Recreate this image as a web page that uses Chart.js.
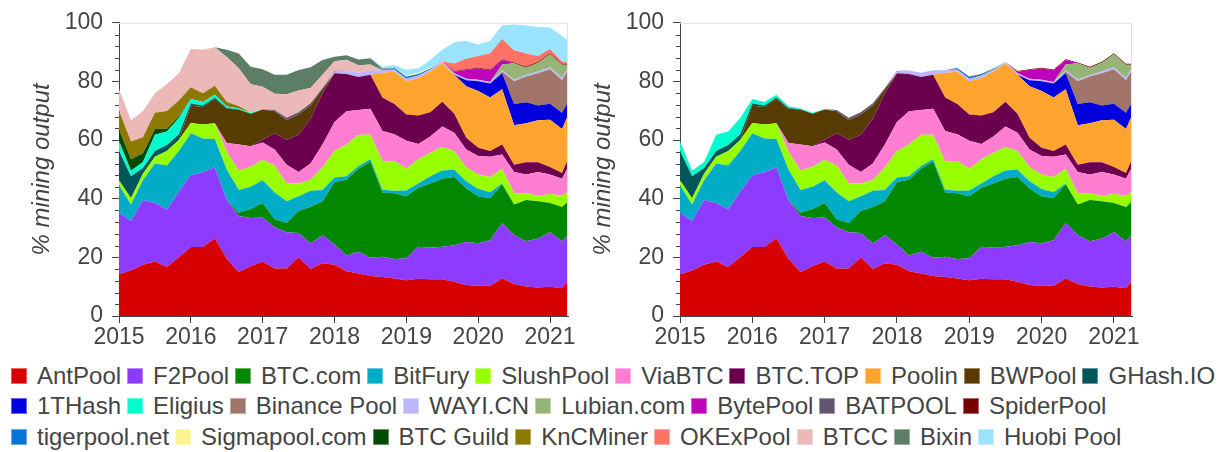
<!DOCTYPE html>
<html>
<head>
<meta charset="utf-8">
<title>Bitcoin mining pool shares</title>
<script src="https://cdn.jsdelivr.net/npm/chart.js@4.4.1/dist/chart.umd.min.js"></script>
<style>
  body { margin: 0; background: #fff; width: 1228px; height: 452px; position: relative; overflow: hidden; font-family: "Liberation Sans", Arial, sans-serif; }
  canvas { position: absolute; top: 0; }
  #chartLeft { left: 0; }
  #chartRight { left: 561px; }
  #legend { position: absolute; left: 11px; top: 361px; color: #444; font-size: 24px; }
  .row { display: flex; align-items: center; height: 30.3px; white-space: nowrap; }
  .item { display: flex; align-items: center; margin-right: 6px; }
  .swatch { width: 16px; height: 16px; margin-right: 10px; box-sizing: border-box; border: 1px solid rgba(255,255,255,0.4); }
</style>
</head>
<body>
<canvas id="chartLeft" width="580" height="355"></canvas>
<canvas id="chartRight" width="600" height="355"></canvas>
<div id="legend"></div>
<script>
// sample months (every second month, plus the last one)
const months = ['2015-01','2015-03','2015-05','2015-07','2015-09','2015-11',
  '2016-01','2016-03','2016-05','2016-07','2016-09','2016-11',
  '2017-01','2017-03','2017-05','2017-07','2017-09','2017-11',
  '2018-01','2018-03','2018-05','2018-07','2018-09','2018-11',
  '2019-01','2019-03','2019-05','2019-07','2019-09','2019-11',
  '2020-01','2020-03','2020-05','2020-07','2020-09','2020-11',
  '2021-01','2021-03','2021-04'];

// % of mining output per pool
const antPool = [14.2,15.5,17.5,18.6,16.7,20,23.5,23.5,26.5,19.5, 15,17,18.6,16.2,16.2,20,16,18,17.5,15.3, 14.5,13.6,13.3,12.8,12.2,12.7,12.5,12.5,11.7,10.6, 10.3,10.3,12.8,10.9,10.1,9.7,10,9.5,12];
const f2Pool = [21,16.9,22.1,19.9,19.6,22.4,24.5,25.5,24.2,20.1, 19.1,16.4,15,14,12.4,8.3,8.7,9.5,6.9,5.3, 7.4,6.3,6.9,6.6,7.5,10.9,10.8,11.1,12.4,14.6, 14.5,15.5,18.9,16.6,15.4,16.7,18.6,16,15.5];
const btcCom = [0,0,0,0,0,0,0,0,0,0, 1.1,3.1,4.9,2.8,3.1,7.5,12.5,11.6,21.3,25.9, 28.3,32.8,21.9,22.5,21.1,20.1,21.9,23.2,23.3,18.3, 16,14.4,13.2,10.5,14.1,12.7,9.9,11.7,11.6];
const bitFury = [9.4,5.6,6.7,13.5,15,13.9,14.3,11.5,9.7,10.4, 7.8,7.6,7.8,9.1,7.4,5,5.5,3.9,1.5,1.2, 1,0.8,1,0.8,2,1.5,2.5,2.8,2.5,2.5, 2.5,2,0.3,0,0,0,0,0,0];
const slushPool = [1.7,2.2,2.2,2.3,5,3.7,3.5,4.8,5.3,6, 6.6,6.8,7,9.2,6.1,4.4,3.8,7.7,9.1,10.8, 10.6,8.3,9.6,10.2,7.4,8.3,8,8,6.4,4.7, 5,5.2,5,3.9,2.3,1.9,3.1,3.8,3.3];
const viaBtc = [0,0,0,0,0,0,0,0,0,3, 8.9,7,5.9,5.5,6.4,3.9,5.5,7.8,9.9,11.3, 8.5,8.9,10.4,9.1,9.6,5.2,5.5,7,6.2,6.1, 6.3,6.9,4.9,7.2,6.4,8.1,6.7,5.8,8.3];
const btcTop = [0,0,0,0,0,0,0,0,0,0, 0,0,1,5.5,8.5,12.7,15.3,17.5,16.6,12.7, 11.2,11.6,11.4,10.3,8.9,9.7,8.3,8.5,6.5,4, 2.8,2,3.4,2.5,4.1,3.3,2.5,2,2.8];
const poolin = [0,0,0,0,0,0,0,0,0,0, 0,0,0,0,0,0,0,0,0,0, 0,0,8.5,11,11.4,12.8,13.9,13,13.3,17.6, 19.3,18.2,18.8,13.5,13.3,14.4,16.1,15,14.9];
const bwPool = [0,0,0,0,0,0,5.9,6,8.5,11.7, 11.9,11.1,10.2,7.5,6.7,6.9,4.5,1.3,0,0, 0,0,0,0,0,0,0,0,0,0, 0,0,0,0,0,0,0,0,0];
const ghashIo = [10,7.5,2,2,2,2,0.8,0.5,0.3,0.2, 0,0,0,0,0,0,0,0,0,0, 0,0,0,0,0,0,0,0,0,0, 0,0,0,0,0,0,0,0,0];
const oneTHash = [0,0,0,0,0,0,0,0,0,0, 0,0,0,0,0,0,0,0,0,0, 0,0,0,0,0,0,0,0,0,2, 3.4,4.8,5.5,7.2,7.2,5,5.5,5.5,4.5];
const eligius = [3.3,1.8,2,5.5,4.6,5.5,1.5,1.2,1,0.6, 0.4,0.3,0.2,0,0,0,0,0,0,0, 0,0,0,0,0,0,0,0,0,0, 0,0,0,0,0,0,0,0,0];
const binancePool = [0,0,0,0,0,0,0,0,0,0, 0,0,0,0,0,0,0,0,0,0, 0,0,0,0,0,0,0,0,0,0, 0,0,0.5,7.8,8.8,11,11.8,11.1,11];
const wayiCn = [0,0,0,0,0,0,0,0,0,0, 0,0,0,0,0,0,0,0,0.5,1.2, 1.5,1.5,0.8,0.8,0.8,0.8,0.6,0.5,0.5,0.5, 0.5,0.5,0.5,0.6,0.5,0.6,0.6,0.8,0.8];
const lubian = [0,0,0,0,0,0,0,0,0,0, 0,0,0,0,0,0,0,0,0,0, 0,0,0,0,0,0,0,0,0,0, 0,0,2,5.5,2.5,3,4.5,4.5,1];
const bytePool = [0,0,0,0,0,0,0,0,0,0, 0,0,0,0,0,0,0,0,0,0, 0,0,0,0,0,0,0,0,0.5,3, 3.8,4,1.5,0,0,0,0,0,0];
const batPool = [0,0,0,0,0,0,0,0,0,0, 0,0,0,0.5,0.8,0.8,0.8,0.5,0.3,0, 0,0,0,0,0,0,0,0,0,0, 0,0,0,0,0,0,0,0,0];
const spiderPool = [0,0,0,0,0,0,0,0,0,0, 0,0,0,0,0,0,0,0,0,0, 0,0,0,0,0,0,0,0,0.3,0.3, 0.3,0.3,0.3,0.3,0.3,0.3,0.3,0.3,0.3];
const tigerPool = [0,0,0,0,0,0,0,0,0,0, 0,0,0,0,0,0,0,0,0,0, 0,0,0,0.5,0.7,0.5,0.3,0,0,0, 0,0,0,0,0,0,0,0,0];
const sigmaPool = [0,0,0,0,0,0,0,0,0,0, 0,0,0,0,0,0,0,0,0,0, 0,0,0,0,0.4,0.5,0.3,0,0,0, 0,0,0,0,0,0,0,0,0];
const btcGuild = [4,4,3,2,1,0.5,0,0,0,0, 0,0,0,0,0,0,0,0,0,0, 0,0,0,0,0,0,0,0,0,0, 0,0,0,0,0,0,0,0,0];
const kncMiner = [6.5,6,5.5,5.5,6,5.5,4,3,3,1.5, 0.8,0,0,0,0,0,0,0,0,0, 0,0,0,0,0,0,0,0,0,0, 0,0,0,0,0,0,0,0,0];
const okexPool = [0,0,0,0,0,0,0,0,0,0, 0,0,0,0,0,0,0,0,0,0, 0,0,0,0,0,0,0,0.2,2.5,3.5, 4,5.5,6.9,4.1,4.5,2,1.5,0.8,0.5];
const btcc = [7.2,7.3,8.8,6.7,9.1,9.3,13.1,14.8,13.2,15.3, 12.9,9.7,7.6,5.5,8,7.4,5.2,4.5,3.3,3.7, 2.5,2,0,0,0,0,0,0,0,0, 0,0,0,0,0,0,0,0,0];
const bixin = [0,0,0,0,0,0,0,0,0,2.5, 5,6,6,6.5,6.7,7,7,5,1.5,1.5, 2,2,0.5,0,0,0,0,0,0,0, 0,0,0,0,0,0,0,0,0];
const huobiPool = [0,0,0,0,0,0,0,0,0,0, 0,0,0,0,0,0,0,0,0,0, 0,0.4,0.7,1,2,1.5,2.7,4,7.3,6.1, 3.9,4.3,4.7,8.8,9.6,9.9,7.3,8.7,7.4];

const xTickYears = [2015, 2016, 2017, 2018, 2019, 2020, 2021];
const yTickValues = [0, 20, 40, 60, 80, 100];

// stacking order = legend order
const series = [
  { name: 'AntPool', data: antPool, color: '#d60000' },
  { name: 'F2Pool', data: f2Pool, color: '#8c3bff' },
  { name: 'BTC.com', data: btcCom, color: '#018700' },
  { name: 'BitFury', data: bitFury, color: '#00acc6' },
  { name: 'SlushPool', data: slushPool, color: '#97ff00' },
  { name: 'ViaBTC', data: viaBtc, color: '#ff7ed1' },
  { name: 'BTC.TOP', data: btcTop, color: '#6b004f' },
  { name: 'Poolin', data: poolin, color: '#ffa52f' },
  { name: 'BWPool', data: bwPool, color: '#573b00' },
  { name: 'GHash.IO', data: ghashIo, color: '#005659' },
  { name: '1THash', data: oneTHash, color: '#0000dd' },
  { name: 'Eligius', data: eligius, color: '#00fdcf' },
  { name: 'Binance Pool', data: binancePool, color: '#a17569' },
  { name: 'WAYI.CN', data: wayiCn, color: '#bcb6ff' },
  { name: 'Lubian.com', data: lubian, color: '#95b577' },
  { name: 'BytePool', data: bytePool, color: '#bf03b8' },
  { name: 'BATPOOL', data: batPool, color: '#645474' },
  { name: 'SpiderPool', data: spiderPool, color: '#790000' },
  { name: 'tigerpool.net', data: tigerPool, color: '#0774d8' },
  { name: 'Sigmapool.com', data: sigmaPool, color: '#fdf490' },
  { name: 'BTC Guild', data: btcGuild, color: '#004b00' },
  { name: 'KnCMiner', data: kncMiner, color: '#8e7900' },
  { name: 'OKExPool', data: okexPool, color: '#ff7266' },
  { name: 'BTCC', data: btcc, color: '#edb8b8' },
  { name: 'Bixin', data: bixin, color: '#5d7e66' },
  { name: 'Huobi Pool', data: huobiPool, color: '#9ae4ff' }
];
// pools that only appear in the left panel
const leftOnly = ['BTC Guild', 'KnCMiner', 'OKExPool', 'BTCC', 'Bixin', 'Huobi Pool'];
const legendRowSizes = [10, 8, 8];

function monthToYear(s) {
  return Number(s.slice(0, 4)) + (Number(s.slice(5, 7)) - 1) / 12;
}

const axisColor = '#444';
const tickFont = { family: '"Liberation Sans", Arial, sans-serif', size: 23 };

// light frame on top/right and the small minor ticks on the y axis
const axisExtras = {
  id: 'axisExtras',
  afterDraw(chart) {
    const { ctx, chartArea: a, scales: { y } } = chart;
    ctx.save();
    ctx.lineWidth = 1;
    ctx.strokeStyle = '#e2e2e2';
    ctx.beginPath();
    ctx.moveTo(a.left, a.top + 0.5);
    ctx.lineTo(a.right - 0.5, a.top + 0.5);
    ctx.lineTo(a.right - 0.5, a.bottom);
    ctx.stroke();
    ctx.strokeStyle = axisColor;
    ctx.beginPath();
    for (let v = 4; v < 100; v += 4) {
      if (v % 20 === 0) continue;
      const py = Math.round(y.getPixelForValue(v)) + 0.5;
      ctx.moveTo(a.left - 4, py);
      ctx.lineTo(a.left, py);
    }
    ctx.stroke();
    ctx.restore();
  }
};

function buildDatasets(list) {
  return list.map((s, i) => ({
    label: s.name,
    data: s.data.map((v, j) => ({ x: monthToYear(months[j]), y: v })),
    backgroundColor: s.color,
    borderColor: s.color,
    borderWidth: 0,
    pointRadius: 0,
    tension: 0,
    fill: i === 0 ? 'origin' : '-1'
  }));
}

function drawPanel(canvasId, list, padRight) {
  return new Chart(document.getElementById(canvasId), {
    type: 'line',
    data: { datasets: buildDatasets(list) },
    options: {
      responsive: false,
      animation: false,
      devicePixelRatio: 1,
      layout: { padding: { top: 15, right: padRight, bottom: 0, left: 0 } },
      plugins: { legend: { display: false }, tooltip: { enabled: false } },
      scales: {
        x: {
          type: 'linear',
          min: 2015,
          max: 2021.25,
          afterBuildTicks: s => { s.ticks = xTickYears.map(v => ({ value: v })); },
          afterFit: s => { s.height = 39; },
          ticks: { font: tickFont, color: axisColor, padding: 1, maxRotation: 0, callback: v => String(v) },
          grid: { drawOnChartArea: false, tickLength: 7, tickColor: axisColor },
          border: { color: axisColor }
        },
        y: {
          stacked: true,
          min: 0,
          max: 100,
          afterBuildTicks: s => { s.ticks = yTickValues.map(v => ({ value: v })); },
          afterFit: s => { s.width = 119; },
          ticks: { font: tickFont, color: axisColor, padding: 9, callback: v => String(v) },
          grid: { drawOnChartArea: false, tickLength: 7, tickColor: axisColor },
          border: { color: axisColor },
          title: {
            display: true,
            text: '% mining output',
            color: axisColor,
            font: { family: '"Liberation Sans", Arial, sans-serif', size: 24, style: 'italic' },
            padding: { top: 28, bottom: 0 }
          }
        }
      }
    },
    plugins: [axisExtras]
  });
}

function buildLegend() {
  const box = document.getElementById('legend');
  let k = 0;
  legendRowSizes.forEach(n => {
    const row = document.createElement('div');
    row.className = 'row';
    series.slice(k, k + n).forEach(s => {
      const item = document.createElement('div');
      item.className = 'item';
      const sw = document.createElement('span');
      sw.className = 'swatch';
      sw.style.background = s.color;
      const txt = document.createElement('span');
      txt.textContent = s.name;
      item.appendChild(sw);
      item.appendChild(txt);
      row.appendChild(item);
    });
    box.appendChild(row);
    k += n;
  });
}

document.addEventListener('DOMContentLoaded', function () {
  drawPanel('chartLeft', series, 12);
  drawPanel('chartRight', series.filter(s => !leftOnly.includes(s.name)), 29);
  buildLegend();
});
</script>
</body>
</html>
